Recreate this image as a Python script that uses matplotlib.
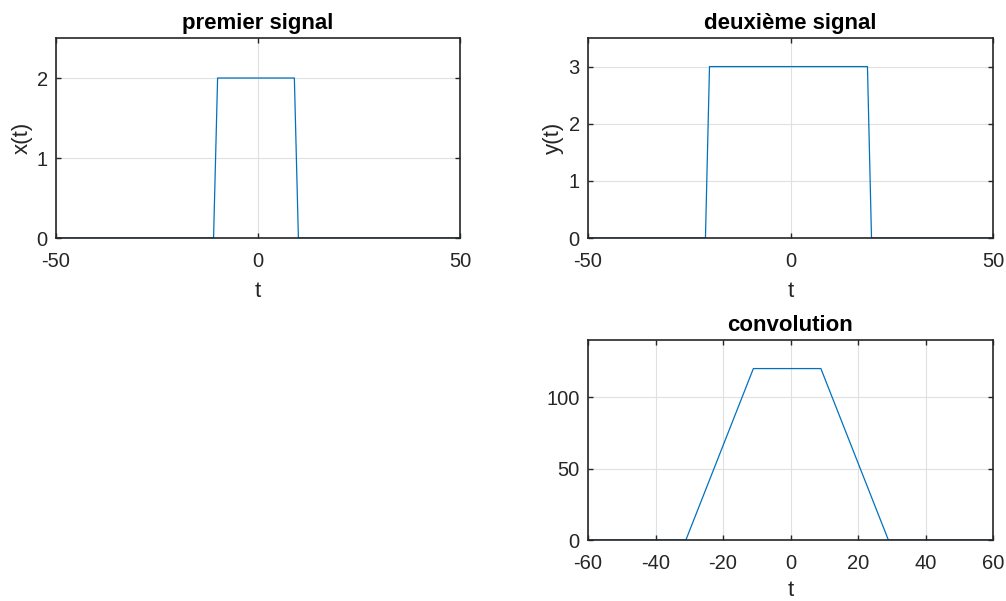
import matplotlib
matplotlib.use("Agg")
import matplotlib.pyplot as plt

plt.rcParams['font.family'] = ['Liberation Sans', 'DejaVu Sans']
plt.rcParams['axes.unicode_minus'] = False

# premier signal: rectangle of height 2
t_x = [-50, -11, -10, 9, 10, 50]
x_vals = [0, 0, 2, 2, 0, 0]

# deuxième signal: rectangle of height 3
t_y = [-50, -21, -20, 19, 20, 50]
y_vals = [0, 0, 3, 3, 0, 0]

# convolution of the two rectangles: trapezoid
t_c = [-60, -31, -11, 9, 29, 60]
c_vals = [0, 0, 120, 120, 0, 0]

LINE = '#0072BD'
AXC = '#262626'
W, H = 1006, 601
TICK_FS = 14.5
LABEL_FS = 16


def box(l, t, r, b):
    return [l / W, 1 - b / H, (r - l) / W, (b - t) / H]


def style(ax, title, xlabel, ylabel, xlim, xticks, ylim, yticks, xpad=7):
    ax.set_xlim(*xlim)
    ax.set_ylim(*ylim)
    ax.set_xticks(xticks)
    ax.set_yticks(yticks)
    ax.set_title(title, fontsize=LABEL_FS, fontweight='bold', color='black', pad=6.5)
    ax.set_xlabel(xlabel, fontsize=LABEL_FS, color=AXC, labelpad=xpad)
    if ylabel:
        ax.set_ylabel(ylabel, fontsize=LABEL_FS, color=AXC, labelpad=3)
    ax.grid(True, color='#E0E0E0', linewidth=0.8)
    ax.set_axisbelow(True)
    ax.tick_params(direction='in', length=3.5, width=1.0, top=True, right=True,
                   labelsize=TICK_FS, colors=AXC)
    ax.tick_params(axis='x', pad=10)
    ax.tick_params(axis='y', pad=6)
    for s in ax.spines.values():
        s.set_color(AXC)
        s.set_linewidth(1.2)


fig = plt.figure(figsize=(W / 100, H / 100), dpi=100)

ax1 = fig.add_axes(box(56, 38, 460, 238))
ax1.plot(t_x, x_vals, color=LINE, linewidth=0.9)
style(ax1, 'premier signal', 't', 'x(t)', (-50, 50), [-50, 0, 50], (0, 2.5), [0, 1, 2])

ax2 = fig.add_axes(box(588, 38, 993, 238))
ax2.plot(t_y, y_vals, color=LINE, linewidth=0.9)
style(ax2, 'deuxième signal', 't', 'y(t)', (-50, 50), [-50, 0, 50], (0, 3.5), [0, 1, 2, 3])

ax3 = fig.add_axes(box(588, 340, 993, 540))
ax3.plot(t_c, c_vals, color=LINE, linewidth=0.9)
style(ax3, 'convolution', 't', None, (-60, 60), list(range(-60, 61, 20)), (0, 140), [0, 50, 100],
      xpad=5)

fig.savefig('out.png', dpi=100)
